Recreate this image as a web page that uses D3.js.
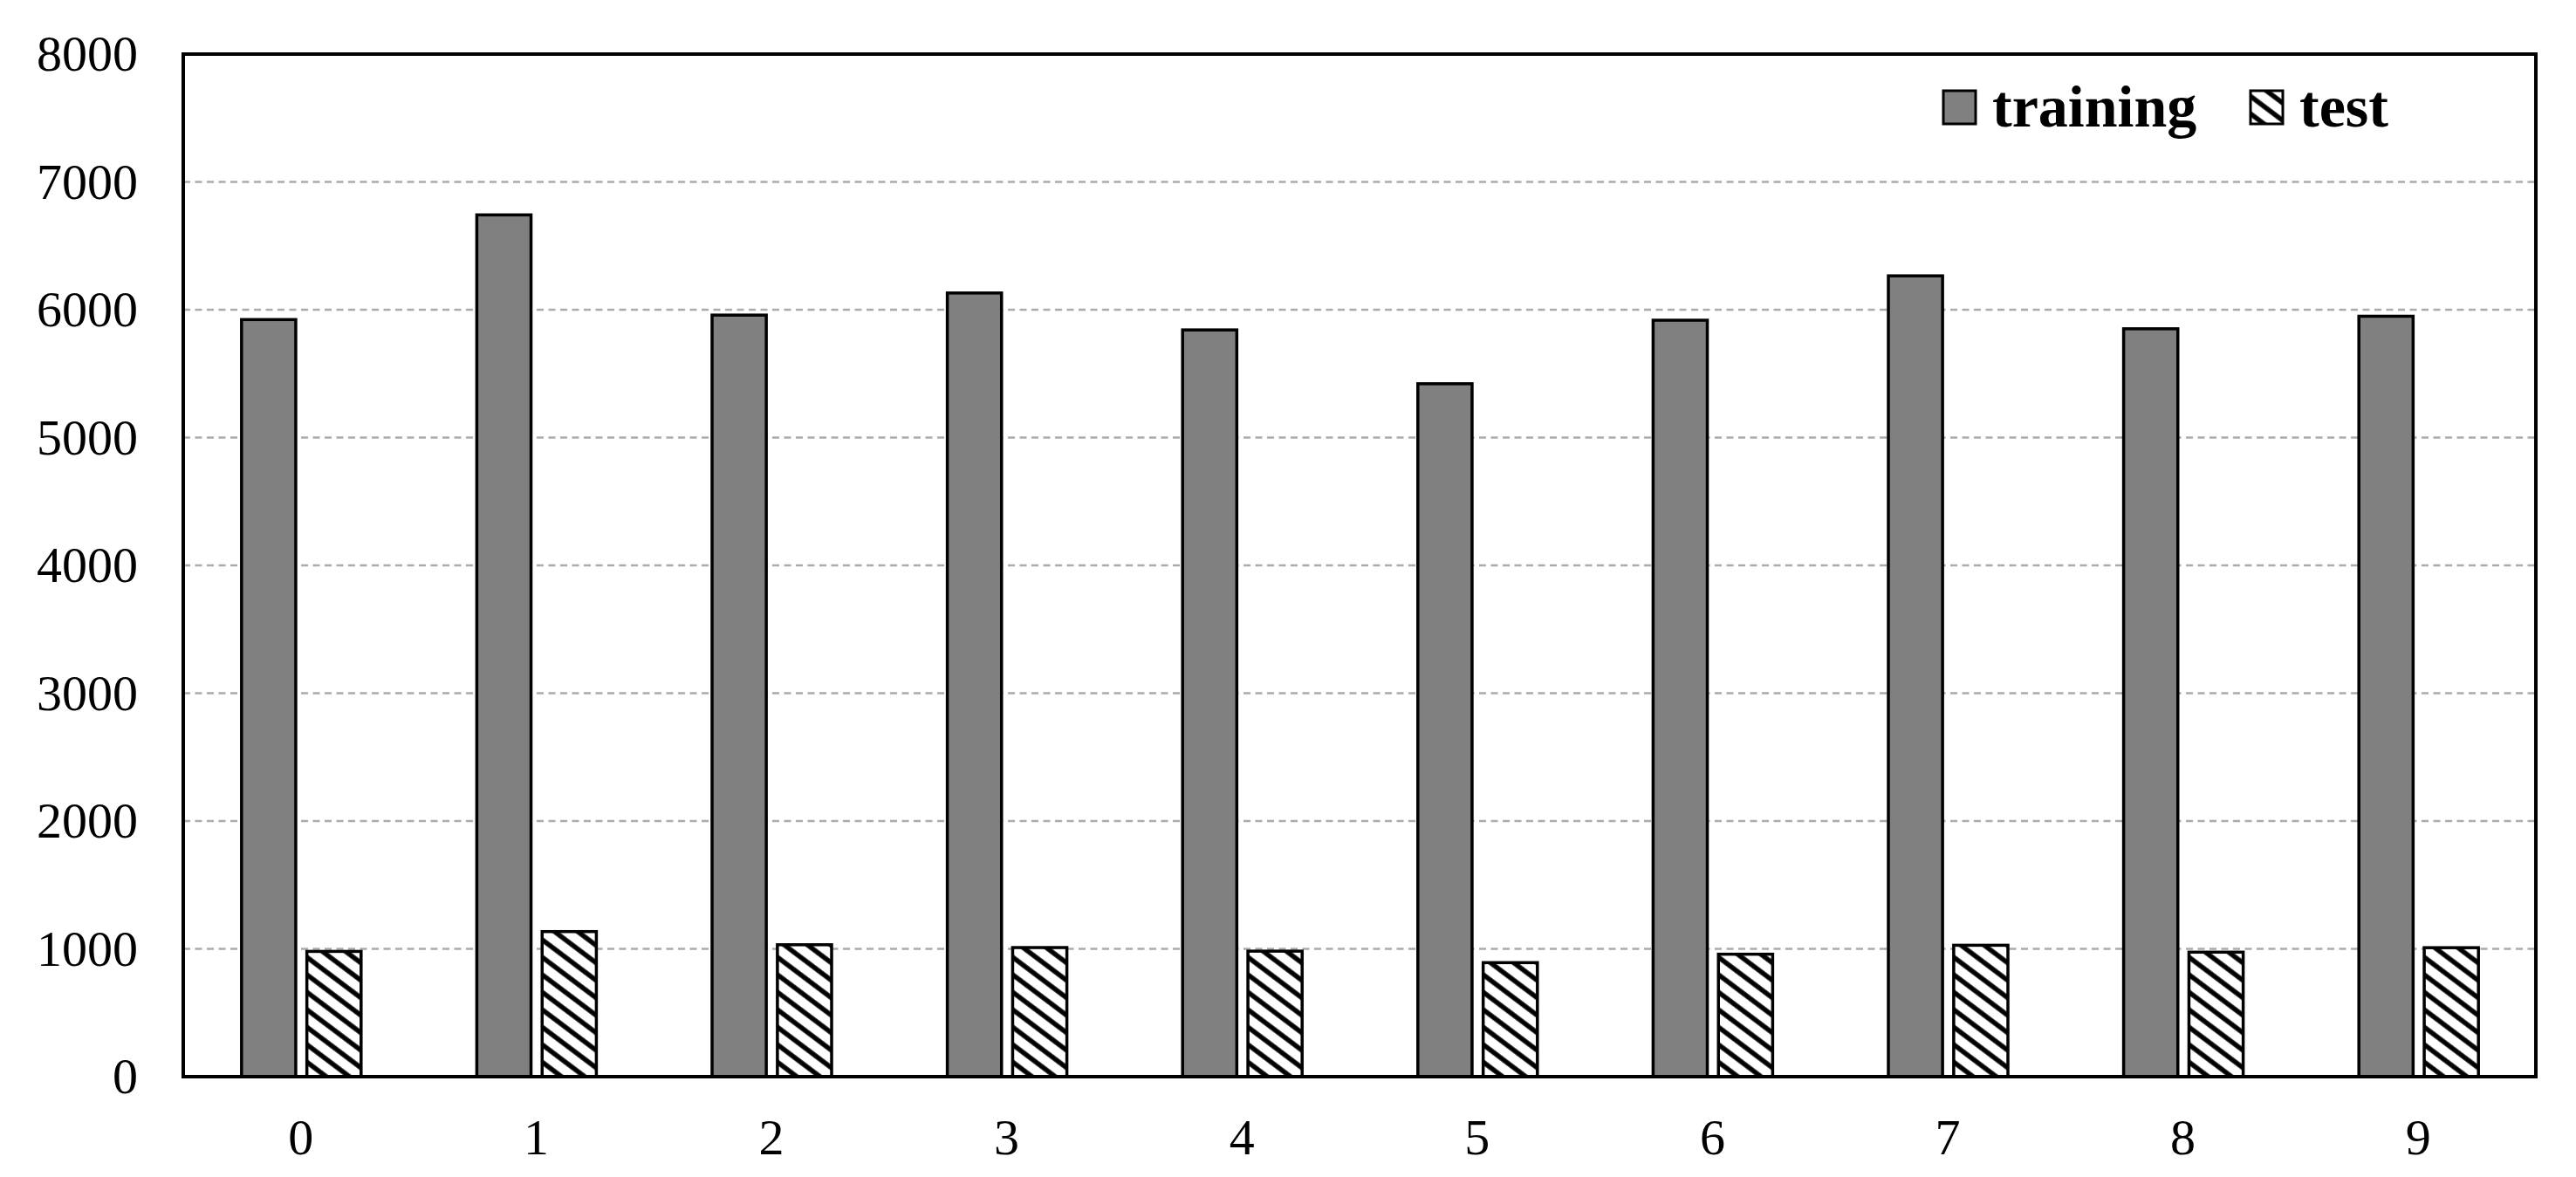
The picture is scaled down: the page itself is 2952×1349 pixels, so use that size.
<!DOCTYPE html>
<html>
<head>
<meta charset="utf-8">
<script src="https://cdn.jsdelivr.net/npm/d3@7"></script>
<style>
  html, body { margin: 0; padding: 0; background: #fff; }
  svg { display: block; font-family: "Liberation Serif", "Times New Roman", serif; }
</style>
</head>
<body>
<div id="chart"></div>
<script>
// digit classes and sample counts per class
const digits = ["0", "1", "2", "3", "4", "5", "6", "7", "8", "9"];
const trainingCounts = [5923, 6742, 5958, 6131, 5842, 5421, 5918, 6265, 5851, 5949];
const testCounts = [980, 1135, 1032, 1010, 982, 892, 958, 1028, 974, 1009];
const seriesNames = ["training", "test"];
const yTicks = [0, 1000, 2000, 3000, 4000, 5000, 6000, 7000, 8000];

const width = 2952;
const height = 1349;
const margin = { top: 62, right: 46, bottom: 115, left: 210 };

const svg = d3.select("#chart")
  .append("svg")
  .attr("width", width)
  .attr("height", height);

// hatch pattern for the test bars
const defs = svg.append("defs");
const pat = defs.append("pattern")
  .attr("id", "hatch")
  .attr("patternUnits", "userSpaceOnUse")
  .attr("width", 16)
  .attr("height", 16)
  .attr("patternTransform", "rotate(37)");
pat.append("rect").attr("width", 16).attr("height", 16).attr("fill", "#fff");
pat.append("line")
  .attr("x1", 0).attr("y1", 8).attr("x2", 16).attr("y2", 8)
  .attr("stroke", "#000").attr("stroke-width", 5.5);

const x = d3.scaleBand()
  .domain(digits)
  .range([margin.left, width - margin.right])
  .padding(0);

const xSub = d3.scaleBand()
  .domain(seriesNames)
  .range([-68, 69])
  .paddingInner(0.17)
  .paddingOuter(0);

const y = d3.scaleLinear()
  .domain([0, 8000])
  .range([height - margin.bottom, margin.top]);

// dashed gridlines
svg.append("g")
  .selectAll("line")
  .data(yTicks.filter(d => d > 0 && d < 8000))
  .enter()
  .append("line")
  .attr("x1", margin.left)
  .attr("x2", width - margin.right)
  .attr("y1", d => y(d))
  .attr("y2", d => y(d))
  .attr("stroke", "#ababab")
  .attr("stroke-width", 2.5)
  .attr("stroke-dasharray", "8,5.5");

// bars
const fills = { training: "#808080", test: "url(#hatch)" };
const rows = digits.map((d, i) => ({ digit: d, training: trainingCounts[i], test: testCounts[i] }));

const groups = svg.append("g")
  .selectAll("g")
  .data(rows)
  .enter()
  .append("g")
  .attr("transform", d => `translate(${x(d.digit) + x.bandwidth() / 2},0)`);

groups.selectAll("rect")
  .data(d => seriesNames.map(k => ({ key: k, value: d[k] })))
  .enter()
  .append("rect")
  .attr("x", d => xSub(d.key))
  .attr("width", xSub.bandwidth())
  .attr("y", d => y(d.value))
  .attr("height", d => y(0) - y(d.value))
  .attr("fill", d => fills[d.key])
  .attr("stroke", "#000")
  .attr("stroke-width", 3.5);

// frame around the plot
svg.append("rect")
  .attr("x", margin.left)
  .attr("y", margin.top)
  .attr("width", width - margin.left - margin.right)
  .attr("height", height - margin.top - margin.bottom)
  .attr("fill", "none")
  .attr("stroke", "#000")
  .attr("stroke-width", 4);

// y axis labels
const yAxis = d3.axisLeft(y).tickValues(yTicks).tickFormat(d3.format("d")).tickSize(0).tickPadding(52);
svg.append("g")
  .attr("transform", `translate(${margin.left},0)`)
  .call(yAxis)
  .call(g => g.select(".domain").remove())
  .selectAll("text")
  .attr("font-family", "Liberation Serif")
  .attr("font-size", 58)
  .attr("fill", "#000");

// x axis labels
const xAxis = d3.axisBottom(x).tickSize(0).tickPadding(48);
svg.append("g")
  .attr("transform", `translate(0,${y(0)})`)
  .call(xAxis)
  .call(g => g.select(".domain").remove())
  .selectAll("text")
  .attr("font-family", "Liberation Serif")
  .attr("font-size", 58)
  .attr("fill", "#000");

// legend
const legendItems = [
  { name: "training", sx: 2227, tx: 2283 },
  { name: "test", sx: 2579, tx: 2635 }
];
const legend = svg.append("g");
legend.selectAll("rect")
  .data(legendItems)
  .enter()
  .append("rect")
  .attr("x", d => d.sx)
  .attr("y", 104)
  .attr("width", 37)
  .attr("height", 38)
  .attr("fill", d => fills[d.name])
  .attr("stroke", "#000")
  .attr("stroke-width", 3);
legend.selectAll("text")
  .data(legendItems)
  .enter()
  .append("text")
  .attr("x", d => d.tx)
  .attr("y", 145)
  .attr("font-size", 68)
  .attr("font-weight", "bold")
  .attr("fill", "#000")
  .text(d => d.name);
</script>
</body>
</html>
